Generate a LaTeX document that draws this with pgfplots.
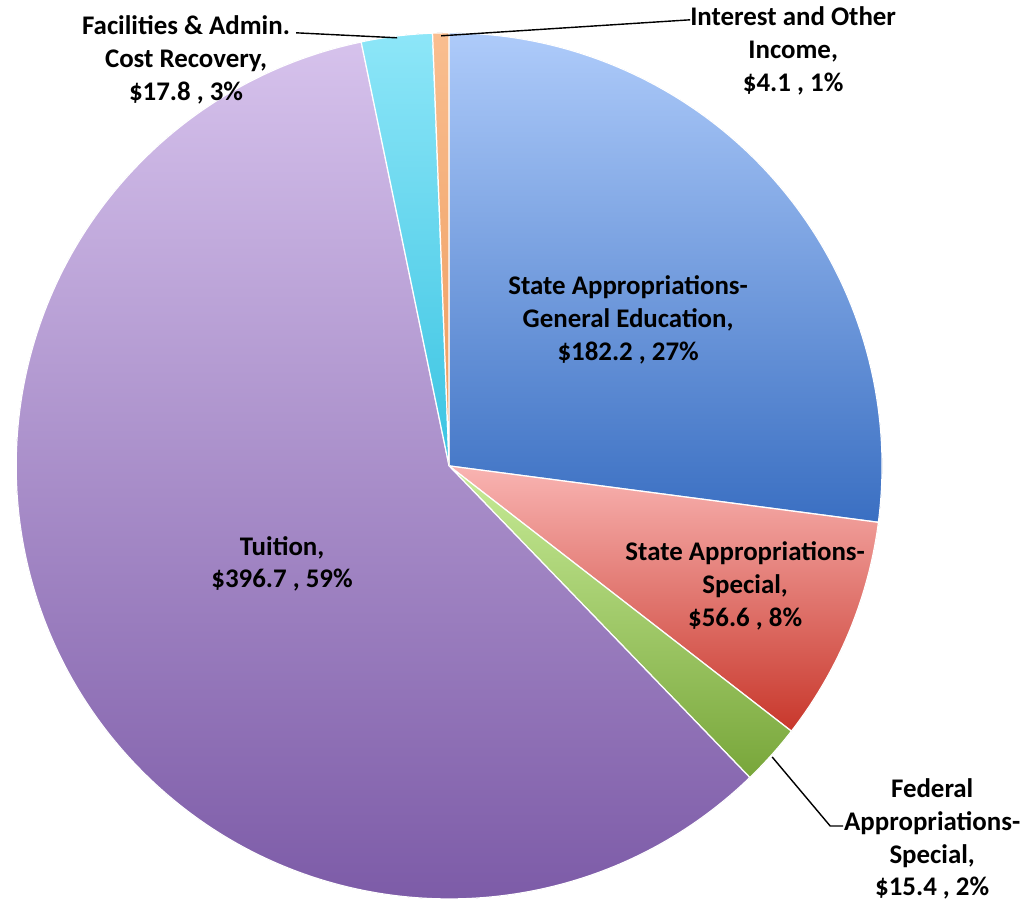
\documentclass[border=0pt]{standalone}
\usepackage{pgfplots}
\pgfplotsset{compat=1.18}
\usepackage{fontspec}
\setmainfont{Carlito}

% slice colours: light (top) and dark (bottom)
\definecolor{geA}{HTML}{AECBFA}\definecolor{geB}{HTML}{3A6FC2}
\definecolor{spA}{HTML}{F9B4B2}\definecolor{spB}{HTML}{C8372B}
\definecolor{feA}{HTML}{C8EC98}\definecolor{feB}{HTML}{78A63A}
\definecolor{tuA}{HTML}{D6C2EC}\definecolor{tuB}{HTML}{7856A4}
\definecolor{faA}{HTML}{8DE6F8}\definecolor{faB}{HTML}{3AC4E2}
\definecolor{inA}{HTML}{F9BE90}\definecolor{inB}{HTML}{EE9A5A}

\tikzset{lbl/.style={font=\fontsize{15.3}{18.7}\selectfont\bfseries, align=center, inner sep=0pt}}

\begin{document}
\begin{tikzpicture}
\begin{axis}[
    hide axis,
    scale only axis,
    x=0.02cm, y=0.02cm,
    xmin=0, xmax=1026, ymin=0, ymax=901,
    clip=false,
]
% pie: values in $M, clockwise from 12 o'clock, total 672.8
\pgfplotsextra{
  \xdef\piestart{90}
  \foreach \pieval/\colA/\colB in {182.2/geA/geB, 56.6/spA/spB, 15.4/feA/feB,
                          396.7/tuA/tuB, 17.8/faA/faB, 4.1/inA/inB}{
    \pgfmathsetmacro\pieend{\piestart-\pieval/672.8*360}
    \pgfmathsetmacro\px{449+433*cos(\piestart)}
    \pgfmathsetmacro\py{435+433*sin(\piestart)}
    \fill[top color=\colA, bottom color=\colB, draw=white, line width=0.7pt]
      (axis cs:449,435) -- (axis cs:\px,\py)
      arc[start angle=\piestart, end angle=\pieend, radius=8.66cm] -- cycle;
    \global\let\piestart\pieend
  }
}
% leader lines
\draw[black, line width=0.8pt] (axis cs:296,868) -- (axis cs:397,863);
\draw[black, line width=0.8pt] (axis cs:690,881) -- (axis cs:441,865);
\draw[black, line width=0.8pt] (axis cs:772,144) -- (axis cs:830,75) -- (axis cs:843,75);
% labels
\node[lbl] at (axis cs:793,850) {Interest and Other\\Income,\\\$4.1 , 1\%};
\node[lbl] at (axis cs:186,841) {Facilities \& Admin.\\Cost Recovery,\\\$17.8 , 3\%};
\node[lbl] at (axis cs:628,581) {State Appropriations-\\General Education,\\\$182.2 , 27\%};
\node[lbl] at (axis cs:745,315) {State Appropriations-\\Special,\\\$56.6 , 8\%};
\node[lbl] at (axis cs:932,62) {Federal\\Appropriations-\\Special,\\\$15.4 , 2\%};
\node[lbl] at (axis cs:282,337) {Tuition,\\\$396.7 , 59\%};
\end{axis}
% keep the page to the 1026 x 901 frame (arc control points would widen it)
\pgfresetboundingbox
\path (0,0) rectangle (20.52cm,18.02cm);
\end{tikzpicture}
\end{document}
